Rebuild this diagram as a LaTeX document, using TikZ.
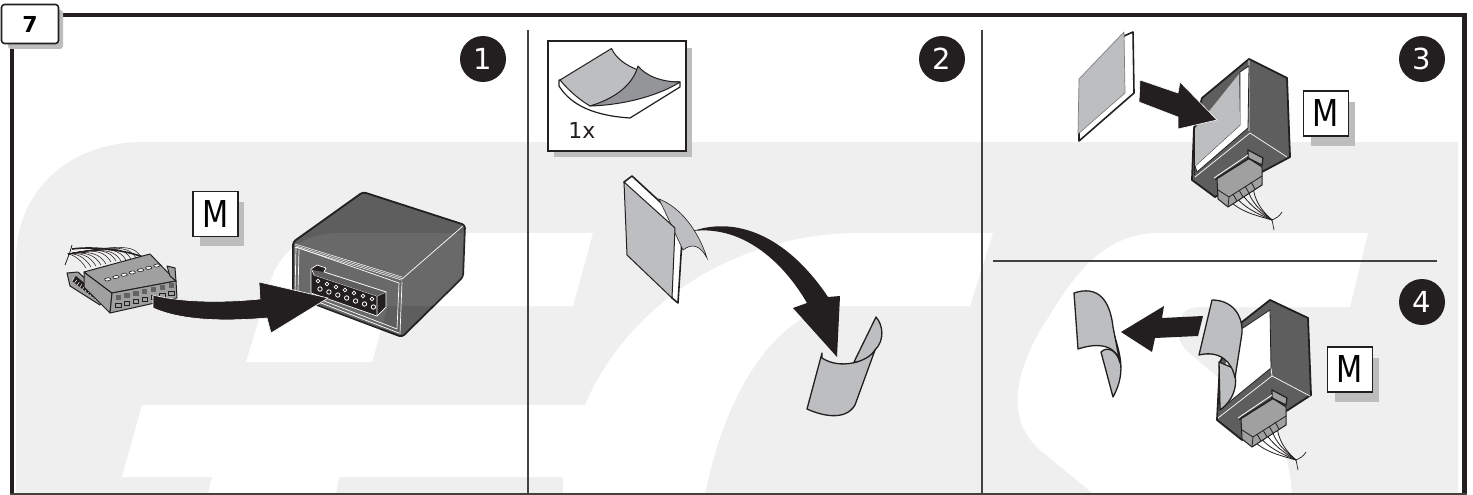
\documentclass[tikz,border=0pt]{standalone}
\usetikzlibrary{calc}
\usepackage{fontspec}
\setmainfont{DejaVu Sans}
\definecolor{wm}{HTML}{EFEFEF}
\definecolor{ink}{HTML}{231F20}
\definecolor{body}{HTML}{5E5E5E}
\definecolor{stick}{HTML}{BCBEC0}
\definecolor{flap}{HTML}{939598}
\definecolor{shadowc}{HTML}{BDBDBD}
\definecolor{plugc}{HTML}{A0A0A0}
\tikzset{
  frameline/.style={draw=ink,line width=4.5pt},
  divider/.style={draw=ink!85,line width=1.3pt},
  numdot/.style={circle,fill=ink,text=white,minimum size=46pt,inner sep=0pt,font=\fontsize{29}{29}\selectfont},
  mbox/.style={draw=ink,line width=1.6pt,fill=white,minimum size=45pt,inner sep=0pt,font=\fontsize{37}{37}\selectfont},
  sheet/.style={fill=stick,draw=ink,line width=1.3pt,line join=round},
  backing/.style={fill=white,draw=ink,line width=1.6pt,line join=round},
  fatarrow/.style={fill=ink,draw=white,line width=.6pt,line join=miter},
  moduleb/.style={fill=body,draw=ink,line width=1.8pt,line join=round},
  edgeline/.style={draw=white,line width=.7pt},
  plugb/.style={fill=plugc,draw=ink,line width=1pt,line join=round},
  wire/.style={draw=ink,line width=.8pt}
}
\newcommand{\plugart}[1]{%
 \begin{scope}[shift={(#1)}]
  \draw[wire] (1228,199) .. controls (1240,212) and (1255,215) .. (1272,220);
  \draw[wire] (1234,195) .. controls (1244,208) and (1258,214) .. (1272,220);
  \draw[wire] (1240,191) .. controls (1248,204) and (1260,213) .. (1272,220);
  \draw[wire] (1247,187) .. controls (1250,202) and (1262,212) .. (1272,220);
  \draw[wire] (1253,183) .. controls (1253,200) and (1262,211) .. (1272,220);
  \draw[draw=ink,line width=.7pt] (1282,212) .. controls (1279,217) and (1276,218) .. (1272,220) -- (1274,230);
  \path[plugb] (1217,178) -- (1248,158) -- (1262,167) -- (1262,185) -- (1228,207) -- (1218,199) -- cycle;
  \draw[draw=ink,line width=.8pt] (1218,190) -- (1229,197) -- (1262,176);
  \draw[draw=ink,line width=.8pt] (1229,197) -- (1228,207);
  \draw[wire] (1233,194) -- (1237,201) (1239,190) -- (1243,197) (1245,186) -- (1249,193) (1251,182) -- (1255,189);
  \path[fill=plugc,draw=ink,line width=1.2pt] (1248,150) -- (1263,158) -- (1262,165) -- (1248,158) -- cycle;
  \draw[draw=white,line width=.8pt] (1214,178) -- (1248,155);
  \draw[draw=ink,line width=1pt] (1215,180) -- (1250,158);
 \end{scope}}
\begin{document}
\begin{tikzpicture}[x=1pt,y=-1pt]
\useasboundingbox (0,0) rectangle (1473,495);
\fill[white] (0,0) rectangle (1473,495);
% watermark
\fill[wm] (143,142) -- (1458,142) -- (1458,494) -- (16,494) -- (16,260)
  .. controls (16,190) and (70,142) .. (143,142) -- cycle;
\fill[white] (246,362) -- (268,290) .. controls (276,255) and (300,233) .. (340,233) -- (593,233) -- (573,306) -- (388,306) -- (372,362) -- cycle;
\fill[white] (142,405) -- (585,405) .. controls (625,310) and (730,233) .. (860,233) -- (993,233) -- (970,306) -- (845,306)
  .. controls (790,306) and (730,370) .. (705,494) -- (563,494) -- (563,477) -- (339,477) -- (336,494) -- (208,494) -- (212,477) -- (122,477) -- cycle;
\fill[white] (1368,233) -- (1350,307) -- (1200,307) .. controls (1175,307) and (1170,335) .. (1188,352) -- (1268,420)
  .. controls (1282,435) and (1290,465) .. (1292,495) -- (1095,495) -- (1040,450) .. controls (1000,415) and (1020,360) .. (1050,315)
  .. controls (1080,265) and (1110,233) .. (1160,233) -- cycle;
% frame
\draw[frameline] (63,15) -- (1464.5,15) -- (1464.5,494);
\draw[frameline] (12,45) -- (12,494);
\draw[draw=ink!85,line width=1.2pt] (10,494) -- (1467,494);
\draw[divider] (528,30) -- (528,494);
\draw[divider] (982,30) -- (982,494);
\draw[divider] (993,261) -- (1437,261);
% tab
\fill[shadowc,rounded corners=3pt] (8,10) rectangle (63,49);
\node[draw=ink,line width=1.6pt,fill=white,rounded corners=3pt,minimum width=57pt,minimum height=39pt,inner sep=0pt,font=\bfseries\fontsize{22}{22}\selectfont] (tab) at (30,24) {7};
% number dots
\node[numdot] (n1) at (483,59) {1};
\node[numdot] (n2) at (942,59) {2};
\node[numdot] (n3) at (1422,59) {3};
\node[numdot] (n4) at (1422,302) {4};
% M boxes
\fill[shadowc] (200,202) rectangle (243.5,246);
\fill[shadowc] (1311,102) rectangle (1355,146);
\fill[shadowc] (1335,358) rectangle (1379,402);
\node[mbox] (m1) at (215.5,214) {\scalebox{.82}[1]{M}};
\node[mbox] (m3) at (1326,113.5) {\scalebox{.82}[1]{M}};
\node[mbox] (m4) at (1350,369.5) {\scalebox{.82}[1]{M}};
% ---------- panel 1 plug
\draw[wire,line width=1.6pt] (72,249) .. controls (95,246) and (125,250) .. (146,258);
\draw[wire] (72,245) -- (70,252) -- (65,265);
\foreach \a/\b in {86/268,91/267,96/266,101/265,106/264,111/262,116/261,121/261,126/260,131/259,136/258,141/257}{
  \draw[wire,line width=.55pt] (\a,\b) .. controls (\a-6,\b-10) and (\a-15,\b-14) .. (68,254);}
\path[fill=plugc,draw=ink,line width=1pt,line join=round] (67,273) -- (78,272) -- (103,295) -- (100,305) -- (70,286) -- cycle;
\path[fill=ink] (72,281) -- (76,276) -- (101,297) -- (99,302) -- cycle;
\foreach \t in {0,.1,...,1}{ \draw[white,line width=.5pt] ($(74,278)!\t!(100,299)$) -- ++(-2,3); }
\path[plugb] (84,272) -- (112,293) -- (110,313) -- (84,287) -- cycle;
\path[plugb] (84,272) -- (150,254) -- (176,281) -- (112,293) -- cycle;
\path[plugb] (112,293) -- (176,281) -- (177,298) -- (110,313) -- cycle;
\path[plugb] (167,266) -- (175,268) -- (176,281) -- (170,276) -- cycle;
\foreach \i in {0,...,6}{
  \path[fill=white,draw=ink,line width=.6pt,rounded corners=.8pt] ({104+8.2*\i},{279-2.3*\i}) -- ++(5,-1.5) -- ++(2.4,2.2) -- ++(-5,1.5) -- cycle;
  \path[fill=ink!70] ({115.5+8.85*\i},{295-2*\i}) rectangle ++(5.4,5);
  \path[fill=plugc,draw=ink,line width=.7pt] ({115.5+8.85*\i},{307.5-2*\i}) rectangle ++(5.4,-4);
}
% ---------- module panel 1
\path[moduleb,rounded corners=3pt] (293,242) -- (363,192) -- (465,225) -- (463,277) -- (402,337) -- (293,296) -- cycle;
\begin{scope}
  \clip (293,242) -- (363,192) -- (465,225) -- (463,277) -- (402,337) -- (293,296) -- cycle;
  \fill[white,opacity=.07] (246,362) -- (268,290) .. controls (276,255) and (300,233) .. (340,233) -- (593,233) -- (573,306) -- (388,306) -- (372,362) -- cycle;
\end{scope}
\foreach \d in {0,1.6,3.2}{
  \draw[edgeline,line width=.5pt] (295,{244+\d}) -- (402,{277+\d});}
\draw[edgeline] (402,279) -- (463,226);
\draw[edgeline] (402,282) -- (400,334);
\draw[edgeline] (296,247) -- (295,293) -- (399,333);
\draw[edgeline] (299,250) -- (298,291) -- (397,329);
\draw[edgeline] (399,283) -- (397,329) (296,247) -- (399,283);
% socket
\path[fill=ink,draw=white,line width=.7pt,line join=round] (311,269) -- (317,265) -- (326,268) -- (324,272) -- (386,292) -- (386,307) -- (377,316) -- (311,293) -- cycle;
\draw[draw=white,line width=.7pt] (314,275) -- (377,296) -- (377,316) (377,296) -- (386,292);
\path[fill=body] (312,270) -- (324,272) -- (386,292) -- (377,296) -- (314,275) -- cycle;
\draw[draw=white,line width=.6pt] (312,270) -- (314,275) (324,272) -- (386,292);
\foreach \i in {0,...,6}{
  \draw[draw=white,line width=.8pt] ({318+9*\i},{281+3*\i}) circle[radius=1.9];
  \draw[draw=white,line width=.8pt] ({320+8.9*\i},{289+3*\i}) circle[radius=2.2];
}
% arrow 1
\path[fatarrow] (153,295) .. controls (180,302) and (220,303) .. (260,299) -- (259,282) -- (328,298) -- (271,333) -- (267,318)
   .. controls (220,322) and (180,320) .. (153,308) -- cycle;
% ---------- panel 2 inset
\fill[shadowc] (554,48) rectangle (692,157);
\node[draw=ink,line width=1.6pt,fill=white,minimum width=138pt,minimum height=110pt,inner sep=0pt] (inset) at (617,96) {};
\path[fill=white,draw=ink,line width=1.2pt,line join=round] (559,80) -- (559,86) .. controls (568,100) and (585,115) .. (630,118) -- (680,87) -- (680,82) -- cycle;
\path[fill=stick,draw=ink,line width=1pt,line join=round] (560,80) -- (611.5,48.5) .. controls (616,58) and (625,65) .. (638,70) .. controls (634,85) and (612,102) .. (590,106) .. controls (580,100) and (570,92) .. (560,80) -- cycle;
\path[fill=flap,draw=ink,line width=1pt,line join=round] (638,66) .. controls (645,75) and (660,82) .. (680,82) .. controls (660,95) and (625,105) .. (590,106) .. controls (610,100) and (632,88) .. (638,66) -- cycle;
\node[font=\fontsize{22}{22}\selectfont,inner sep=0pt,text=ink] (onex) at (582,130) {1x};
% ---------- panel 2 sheet
\path[backing] (632,176) -- (683,223) -- (678,303) -- (672,298) -- (624,182) -- cycle;
\path[fill=stick,draw=ink,line width=.6pt] (659,199) .. controls (680,207) and (698,230) .. (707,258) .. controls (700,245) and (692,243) .. (683,250) -- cycle;
\path[sheet,line width=1pt] (624,182) -- (675,228) -- (672,298) -- (627,255) -- cycle;
\path[fatarrow,draw=none] (693,231) .. controls (740,215) and (790,240) .. (828,297) -- (840,296) -- (837,357) -- (793,308) -- (807,303)
  .. controls (785,265) and (745,225) .. (693,231) -- cycle;
% curled sheet
\path[sheet] (854,362) -- (876,317) .. controls (883,325) and (885,340) .. (875,350) .. controls (870,358) and (862,363) .. (854,362) -- cycle;
\path[sheet] (822,353) -- (807,409) .. controls (820,415) and (845,422) .. (855,405) -- (875,350)
   .. controls (868,362) and (840,370) .. (822,358) -- cycle;
% ---------- panel 3 sheet
\path[backing] (1124,36) -- (1133,32) -- (1134,93) -- (1079,141) -- (1079,130) -- cycle;
\path[sheet,draw=stick!60!ink,line width=.7pt] (1079,79) -- (1124,32) -- (1125,93) -- (1078,134) -- cycle;
% ---------- module panel 3
\path[moduleb] (1202,98) -- (1249,59) -- (1287,78) -- (1290,157) -- (1215,197) -- (1192,180) -- (1194,128) -- cycle;
\draw[edgeline] (1195,177) -- (1250,133) -- (1287,157) (1249,131) -- (1249,60);
\path[fill=white,draw=ink,line width=.8pt] (1240,72) -- (1249,66) -- (1248,128) -- (1197,172) -- (1195,166) -- (1240,125) -- cycle;
\path[sheet,draw=none] (1194,130) -- (1239,74) -- (1240,125) -- (1195,166) -- cycle;
\draw[draw=ink,line width=1pt] (1194,128) -- (1194,175);
\plugart{0,0}
\path[fatarrow] (1140,80) -- (1178,93) -- (1180,82) -- (1217,120) -- (1178,129) -- (1178,117) -- (1139,102) -- cycle;
% ---------- panel 4 curled sheet (left)
\path[sheet] (1101,352) .. controls (1108,345) and (1118,352) .. (1120,363) -- (1113,330) .. controls (1118,350) and (1128,370) .. (1113,397) -- cycle;
\path[sheet] (1074,293) .. controls (1098,285) and (1110,300) .. (1113,327) -- (1120,363) .. controls (1118,350) and (1105,340) .. (1078,349) -- cycle;
% ---------- module panel 4
\path[moduleb] (1242,322) -- (1270,300) -- (1308,318) -- (1311,395) -- (1242,440) -- (1217,420) -- (1220,362) -- cycle;
\path[fill=white,draw=ink,line width=.8pt] (1270,310) -- (1271,368) -- (1222,408) -- (1226,350) -- (1240,330) -- cycle;
\draw[edgeline] (1218,418) -- (1272,376) -- (1310,396) (1271,368) -- (1272,376);
\path[sheet] (1219,362) -- (1233,368) .. controls (1240,385) and (1232,402) .. (1220,410) -- cycle;
\path[sheet] (1212,300) .. controls (1232,300) and (1243,315) .. (1242,333) -- (1235,378)
   .. controls (1232,362) and (1220,350) .. (1199,355) -- cycle;
\plugart{24,240}
\path[fatarrow,draw=none] (1121,332) -- (1164,306) -- (1162,318) -- (1203,316) -- (1198,336) -- (1155,338) -- (1152,352) -- cycle;
\end{tikzpicture}
\end{document}
